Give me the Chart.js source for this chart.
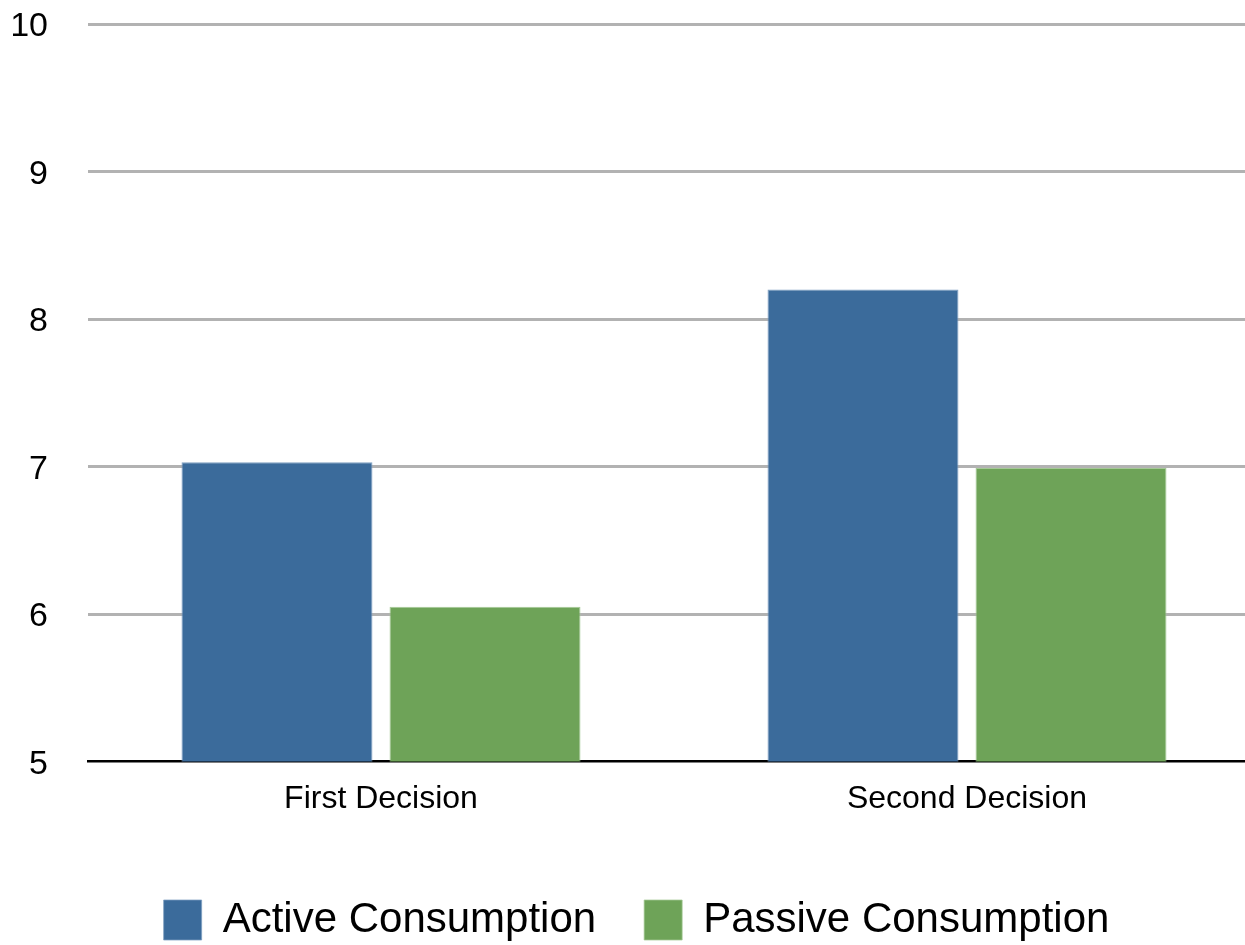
<!DOCTYPE html>
<html>
<head>
<meta charset="utf-8">
<script src="https://cdn.jsdelivr.net/npm/chart.js@4.4.1/dist/chart.umd.min.js"></script>
<style>
  html, body { margin: 0; padding: 0; background: #fff; overflow: hidden; }
  #wrap { position: relative; width: 1266px; height: 955px; }
</style>
</head>
<body>
<div id="wrap"><canvas id="c"></canvas></div>
<script>
// Categories and series values
const categories = ['First Decision', 'Second Decision'];
const activeConsumption = [7.03, 8.2];
const passiveConsumption = [6.05, 6.99];
const seriesNames = ['Active Consumption', 'Passive Consumption'];
const yTicks = [5, 6, 7, 8, 9, 10];

const FONT = '"Liberation Sans", Arial, Helvetica, sans-serif';

new Chart(document.getElementById('c'), {
  type: 'bar',
  data: {
    labels: categories,
    datasets: [
      {
        label: seriesNames[0],
        data: activeConsumption,
        backgroundColor: '#3b6b9b',
        borderColor: '#7f9fc2',
        borderWidth: { top: 1, left: 1, right: 1, bottom: 0 },
        categoryPercentage: 0.71,
        barPercentage: 0.918
      },
      {
        label: seriesNames[1],
        data: passiveConsumption,
        backgroundColor: '#6ea358',
        borderColor: '#a5c996',
        borderWidth: { top: 1, left: 1, right: 1, bottom: 0 },
        categoryPercentage: 0.71,
        barPercentage: 0.918
      }
    ]
  },
  options: {
    responsive: true,
    maintainAspectRatio: false,
    animation: false,
    layout: { padding: { left: 13, right: 6, top: 24, bottom: 4 } },
    plugins: {
      tooltip: { enabled: false },
      legend: {
        position: 'bottom',
        labels: {
          font: { family: FONT, size: 42 },
          color: '#000',
          boxWidth: 38,
          boxHeight: 40,
          padding: 48
        }
      }
    },
    scales: {
      x: {
        grid: { display: false, drawTicks: false },
        border: { display: true, color: '#000', width: 2.5 },
        ticks: {
          font: { family: FONT, size: 32 },
          color: '#000',
          padding: 18
        },
        // extra room between the category labels and the legend
        afterFit: (scale) => { scale.height += 15; }
      },
      y: {
        min: 5,
        max: 10,
        afterBuildTicks: (scale) => { scale.ticks = yTicks.map(v => ({ value: v })); },
        afterFit: (scale) => {
          scale.width = 75;
          scale.paddingTop = 0;
          scale.paddingBottom = 0;
        },
        grid: {
          drawTicks: false,
          lineWidth: 3,
          color: (ctx) => (ctx.tick && ctx.tick.value === 5) ? 'rgba(0,0,0,0)' : '#b2b2b2'
        },
        border: { display: false },
        ticks: {
          font: { family: FONT, size: 34 },
          color: '#000',
          padding: 40,
          labelOffset: 3
        }
      }
    }
  }
});
</script>
</body>
</html>
